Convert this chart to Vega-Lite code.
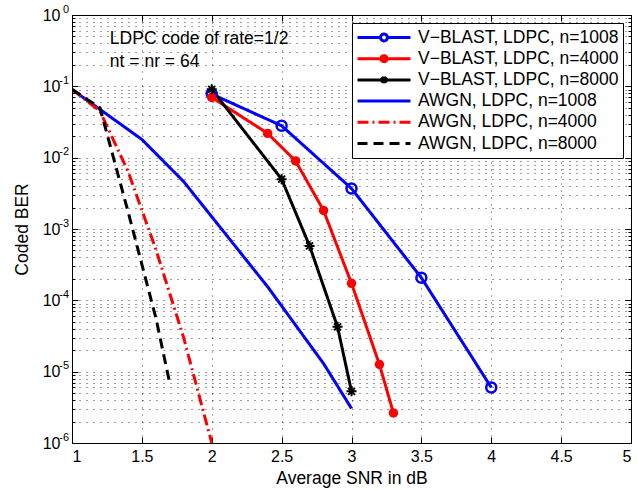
{
  "$schema": "https://vega.github.io/schema/vega-lite/v6.json",
  "autosize": {"type": "none"},
  "width": 559,
  "height": 428,
  "padding": {"left": 72, "top": 15, "right": 6, "bottom": 47},
  "background": "white",
  "config": {
    "view": {"stroke": "black", "strokeWidth": 1},
    "font": "Liberation Sans",
    "axis": {"labelFont": "Liberation Sans", "titleFont": "Liberation Sans", "labelColor": "black", "titleColor": "black", "tickColor": "black", "titleFontWeight": "normal"}
  },
  "data": {
    "values": [
      {"series": "V−BLAST, LDPC, n=1008", "snr": 2, "ber": 0.078},
      {"series": "V−BLAST, LDPC, n=1008", "snr": 2.5, "ber": 0.028},
      {"series": "V−BLAST, LDPC, n=1008", "snr": 3, "ber": 0.0037},
      {"series": "V−BLAST, LDPC, n=1008", "snr": 3.5, "ber": 0.000207},
      {"series": "V−BLAST, LDPC, n=1008", "snr": 4, "ber": 0.000006},
      {"series": "V−BLAST, LDPC, n=4000", "snr": 2, "ber": 0.070},
      {"series": "V−BLAST, LDPC, n=4000", "snr": 2.4, "ber": 0.0219},
      {"series": "V−BLAST, LDPC, n=4000", "snr": 2.6, "ber": 0.0090},
      {"series": "V−BLAST, LDPC, n=4000", "snr": 2.8, "ber": 0.00182},
      {"series": "V−BLAST, LDPC, n=4000", "snr": 3, "ber": 0.000173},
      {"series": "V−BLAST, LDPC, n=4000", "snr": 3.2, "ber": 0.0000126},
      {"series": "V−BLAST, LDPC, n=4000", "snr": 3.3, "ber": 0.00000264},
      {"series": "V−BLAST, LDPC, n=8000", "snr": 2, "ber": 0.0907},
      {"series": "V−BLAST, LDPC, n=8000", "snr": 2.5, "ber": 0.0050},
      {"series": "V−BLAST, LDPC, n=8000", "snr": 2.7, "ber": 0.00058},
      {"series": "V−BLAST, LDPC, n=8000", "snr": 2.9, "ber": 0.0000425},
      {"series": "V−BLAST, LDPC, n=8000", "snr": 3, "ber": 0.0000053},
      {"series": "AWGN, LDPC, n=1008", "snr": 1, "ber": 0.0907},
      {"series": "AWGN, LDPC, n=1008", "snr": 1.5, "ber": 0.018},
      {"series": "AWGN, LDPC, n=1008", "snr": 1.8, "ber": 0.0046},
      {"series": "AWGN, LDPC, n=1008", "snr": 2.4, "ber": 0.000155},
      {"series": "AWGN, LDPC, n=1008", "snr": 2.8, "ber": 0.000013},
      {"series": "AWGN, LDPC, n=1008", "snr": 3, "ber": 0.00000305},
      {"series": "AWGN, LDPC, n=4000", "snr": 1, "ber": 0.0907},
      {"series": "AWGN, LDPC, n=4000", "snr": 1.2, "ber": 0.045},
      {"series": "AWGN, LDPC, n=4000", "snr": 1.4, "ber": 0.0065},
      {"series": "AWGN, LDPC, n=4000", "snr": 1.6, "ber": 0.00052},
      {"series": "AWGN, LDPC, n=4000", "snr": 1.8, "ber": 0.0000295},
      {"series": "AWGN, LDPC, n=4000", "snr": 2, "ber": 0.000001},
      {"series": "AWGN, LDPC, n=8000", "snr": 1, "ber": 0.0907},
      {"series": "AWGN, LDPC, n=8000", "snr": 1.2, "ber": 0.05},
      {"series": "AWGN, LDPC, n=8000", "snr": 1.4, "ber": 0.00178},
      {"series": "AWGN, LDPC, n=8000", "snr": 1.6, "ber": 0.000057},
      {"series": "AWGN, LDPC, n=8000", "snr": 1.7, "ber": 0.0000068}
    ]
  },
  "resolve": {
    "axis": {"x": "independent", "y": "independent"},
    "legend": {"color": "independent", "shape": "independent", "strokeDash": "independent"},
    "scale": {"shape": "independent"}
  },
  "layer": [
    {
      "mark": {"type": "line", "strokeWidth": 3, "clip": true},
      "encoding": {
        "x": {"field": "snr", "type": "quantitative", "scale": {"domain": [1, 5], "nice": false, "zero": false},
          "axis": {"orient": "bottom", "values": [1, 1.5, 2, 2.5, 3, 3.5, 4, 4.5, 5], "format": "~g", "labelFontSize": 16, "labelPadding": 11, "tickSize": -6, "domain": false,
            "grid": true, "gridDash": [1, 6], "gridColor": "black", "gridOpacity": 0.75,
            "title": "Average SNR in dB", "titleFontSize": 17.5, "titlePadding": 5}},
        "y": {"field": "ber", "type": "quantitative", "scale": {"type": "log", "domain": [0.000001, 1], "nice": false},
          "axis": {"orient": "left",
            "values": [1e-6, 2e-6, 3e-6, 4e-6, 5e-6, 6e-6, 7e-6, 8e-6, 9e-6, 1e-5, 2e-5, 3e-5, 4e-5, 5e-5, 6e-5, 7e-5, 8e-5, 9e-5, 1e-4, 2e-4, 3e-4, 4e-4, 5e-4, 6e-4, 7e-4, 8e-4, 9e-4, 1e-3, 2e-3, 3e-3, 4e-3, 5e-3, 6e-3, 7e-3, 8e-3, 9e-3, 0.01, 0.02, 0.03, 0.04, 0.05, 0.06, 0.07, 0.08, 0.09, 0.1, 0.2, 0.3, 0.4, 0.5, 0.6, 0.7, 0.8, 0.9, 1],
            "labelExpr": "abs(log(datum.value)/LN10 - round(log(datum.value)/LN10)) < 0.001 ? '10' : ''",
            "labelFontSize": 16, "labelPadding": 18, "domain": false,
            "tickSize": {"condition": {"test": "abs(log(datum.value)/LN10 - round(log(datum.value)/LN10)) < 0.001", "value": -6}, "value": -3},
            "grid": true, "gridDash": [1, 6], "gridColor": "black", "gridOpacity": 0.75,
            "title": "Coded BER", "titleFontSize": 17.5, "titlePadding": 11}},
        "color": {"field": "series", "type": "nominal",
          "scale": {"domain": ["V−BLAST, LDPC, n=1008", "V−BLAST, LDPC, n=4000", "V−BLAST, LDPC, n=8000", "AWGN, LDPC, n=1008", "AWGN, LDPC, n=4000", "AWGN, LDPC, n=8000"],
            "range": ["#0000ff", "#ff0000", "#000000", "#0000ff", "#ff0000", "#000000"]}, "legend": null},
        "strokeDash": {"field": "series", "type": "nominal",
          "scale": {"domain": ["V−BLAST, LDPC, n=1008", "V−BLAST, LDPC, n=4000", "V−BLAST, LDPC, n=8000", "AWGN, LDPC, n=1008", "AWGN, LDPC, n=4000", "AWGN, LDPC, n=8000"],
            "range": [[1, 0], [1, 0], [1, 0], [1, 0], [11, 4, 2, 4], [10, 6]]}, "legend": null}
      }
    },
    {
      "transform": [{"filter": "datum.series == 'V−BLAST, LDPC, n=1008'"}],
      "mark": {"type": "point", "shape": "circle", "filled": false, "stroke": "#0000ff", "strokeWidth": 2.5, "size": 100, "opacity": 1},
      "encoding": {
        "x": {"field": "snr", "type": "quantitative", "axis": null},
        "y": {"field": "ber", "type": "quantitative", "scale": {"type": "log"},
          "axis": {"orient": "left",
            "values": [1e-6, 1e-5, 1e-4, 1e-3, 0.01, 0.1, 1],
            "labelExpr": "round(log(datum.value)/LN10) == 0 ? '0' : '-' + (-round(log(datum.value)/LN10))",
            "labelFontSize": 11, "labelPadding": 3.5, "labelOffset": -6, "labelAlign": "right",
            "ticks": false, "domain": false, "grid": false, "title": null}}
      }
    },
    {
      "transform": [{"filter": "datum.series == 'V−BLAST, LDPC, n=4000'"}],
      "mark": {"type": "point", "shape": "circle", "filled": true, "fill": "#ff0000", "size": 90, "opacity": 1},
      "encoding": {
        "x": {"field": "snr", "type": "quantitative", "axis": null},
        "y": {"field": "ber", "type": "quantitative", "scale": {"type": "log"}, "axis": null}
      }
    },
    {
      "transform": [{"filter": "datum.series == 'V−BLAST, LDPC, n=8000'"}],
      "mark": {"type": "point", "shape": "M-1,0H1M0,-1V1M-0.7,-0.7L0.7,0.7M-0.7,0.7L0.7,-0.7", "filled": false, "stroke": "#000000", "strokeWidth": 2, "size": 100, "opacity": 1},
      "encoding": {
        "x": {"field": "snr", "type": "quantitative", "axis": null},
        "y": {"field": "ber", "type": "quantitative", "scale": {"type": "log"}, "axis": null}
      }
    },
    {
      "data": {"values": [{}]},
      "mark": {"type": "text", "align": "left", "baseline": "alphabetic", "fontSize": 17.5, "font": "Liberation Sans", "color": "black", "lineBreak": "\n", "lineHeight": 23.4},
      "encoding": {
        "x": {"datum": 1.271, "type": "quantitative", "axis": null},
        "y": {"datum": 0.398, "type": "quantitative", "scale": {"type": "log"}, "axis": null},
        "text": {"value": "LDPC code of rate=1/2\nnt = nr = 64"}
      }
    },
    {
      "transform": [{"filter": "datum.snr < 0"}],
      "mark": {"type": "point", "filled": false, "strokeWidth": 3, "opacity": 1},
      "encoding": {
        "x": {"field": "snr", "type": "quantitative",
          "axis": {"orient": "top", "values": [1, 1.5, 2, 2.5, 3, 3.5, 4, 4.5, 5], "labels": false, "title": null, "tickSize": -6, "domain": false, "grid": false}},
        "y": {"field": "ber", "type": "quantitative", "scale": {"type": "log"},
          "axis": {"orient": "right",
            "values": [1e-6, 2e-6, 3e-6, 4e-6, 5e-6, 6e-6, 7e-6, 8e-6, 9e-6, 1e-5, 2e-5, 3e-5, 4e-5, 5e-5, 6e-5, 7e-5, 8e-5, 9e-5, 1e-4, 2e-4, 3e-4, 4e-4, 5e-4, 6e-4, 7e-4, 8e-4, 9e-4, 1e-3, 2e-3, 3e-3, 4e-3, 5e-3, 6e-3, 7e-3, 8e-3, 9e-3, 0.01, 0.02, 0.03, 0.04, 0.05, 0.06, 0.07, 0.08, 0.09, 0.1, 0.2, 0.3, 0.4, 0.5, 0.6, 0.7, 0.8, 0.9, 1],
            "labels": false, "title": null, "domain": false, "grid": false,
            "tickSize": {"condition": {"test": "abs(log(datum.value)/LN10 - round(log(datum.value)/LN10)) < 0.001", "value": -6}, "value": -3}}},
        "color": {"field": "series", "type": "nominal",
          "scale": {"domain": ["V−BLAST, LDPC, n=1008", "V−BLAST, LDPC, n=4000", "V−BLAST, LDPC, n=8000", "AWGN, LDPC, n=1008", "AWGN, LDPC, n=4000", "AWGN, LDPC, n=8000"],
            "range": ["#0000ff", "#ff0000", "#000000", "#0000ff", "#ff0000", "#000000"]},
          "legend": {"title": null, "orient": "top-right", "offset": 8, "fillColor": "white", "strokeColor": "black", "padding": 4,
            "labelFont": "Liberation Sans", "labelFontSize": 17.5, "labelColor": "black", "labelOffset": 6, "labelLimit": 400, "symbolSize": 2809, "symbolStrokeWidth": 3, "clipHeight": 21, "rowPadding": 0.2}},
        "shape": {"field": "series", "type": "nominal",
          "scale": {"domain": ["V−BLAST, LDPC, n=1008", "V−BLAST, LDPC, n=4000", "V−BLAST, LDPC, n=8000", "AWGN, LDPC, n=1008", "AWGN, LDPC, n=4000", "AWGN, LDPC, n=8000"],
            "range": [
              "M-1,0H-0.13M0.13,0H1M-0.13,0A0.13,0.13 0 1,0 0.13,0A0.13,0.13 0 1,0 -0.13,0",
              "M-1,0H1M-0.04,0A0.04,0.04 0 1,0 0.04,0A0.04,0.04 0 1,0 -0.04,0M-0.08,0A0.08,0.08 0 1,0 0.08,0A0.08,0.08 0 1,0 -0.08,0M-0.113,0A0.113,0.113 0 1,0 0.113,0A0.113,0.113 0 1,0 -0.113,0",
              "M-1,0H1M0,-0.13V0.13M-0.1,-0.1L0.1,0.1M-0.1,0.1L0.1,-0.1",
              "M-1,0H1",
              "M-1,0H1",
              "M-1,0H1"]},
          "legend": {"title": null, "orient": "top-right", "offset": 8, "fillColor": "white", "strokeColor": "black", "padding": 4,
            "labelFont": "Liberation Sans", "labelFontSize": 17.5, "labelColor": "black", "labelOffset": 6, "labelLimit": 400, "symbolSize": 2809, "symbolStrokeWidth": 3, "clipHeight": 21, "rowPadding": 0.2}},
        "strokeDash": {"field": "series", "type": "nominal",
          "scale": {"domain": ["V−BLAST, LDPC, n=1008", "V−BLAST, LDPC, n=4000", "V−BLAST, LDPC, n=8000", "AWGN, LDPC, n=1008", "AWGN, LDPC, n=4000", "AWGN, LDPC, n=8000"],
            "range": [[1, 0], [1, 0], [1, 0], [1, 0], [11, 4, 2, 4], [10, 6]]},
          "legend": {"title": null, "orient": "top-right", "offset": 8, "fillColor": "white", "strokeColor": "black", "padding": 4,
            "labelFont": "Liberation Sans", "labelFontSize": 17.5, "labelColor": "black", "labelOffset": 6, "labelLimit": 400, "symbolSize": 2809, "symbolStrokeWidth": 3, "clipHeight": 21, "rowPadding": 0.2}}
      }
    }
  ]
}
